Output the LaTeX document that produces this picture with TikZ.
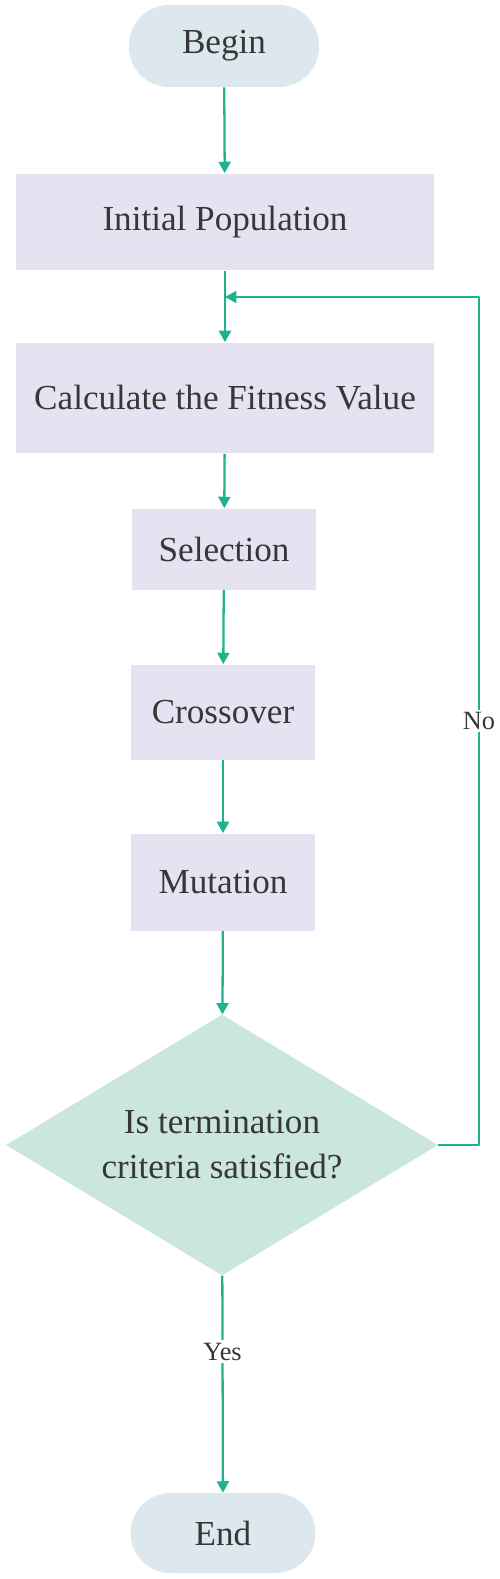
\documentclass[tikz,border=0pt]{standalone}
\usepackage{fontspec}
\setmainfont{Liberation Serif}
\usepackage{tikz}
\usetikzlibrary{arrows.meta,shapes.geometric}
\usepackage{xcolor}
\definecolor{capblue}{RGB}{220,232,238}
\definecolor{steplilac}{RGB}{230,226,241}
\definecolor{testmint}{RGB}{203,230,222}
\definecolor{flowteal}{RGB}{30,178,142}
\definecolor{inkgray}{RGB}{55,55,55}

\begin{document}
\begin{tikzpicture}[x=0.02cm,y=-0.02cm,line join=round,
  every node/.style={text=inkgray,font=\fontsize{20}{25.5}\selectfont},
  terminal/.style={rectangle,rounded corners=0.8cm,fill=capblue,inner sep=0pt,
    minimum width=3.8cm,minimum height=1.64cm},
  stepbox/.style={rectangle,fill=steplilac,inner sep=0pt,minimum width=3.7cm},
  widebox/.style={stepbox,minimum width=8.36cm},
  testbox/.style={diamond,fill=testmint,inner sep=0pt,aspect=1.655,align=center,
    minimum width=8.64cm,minimum height=5.22cm},
  flow/.style={draw=flowteal,line width=1.3pt,-{Triangle[length=6.5pt,width=6.8pt]}},
  lbl/.style={fill=white,inner sep=1.5pt,font=\fontsize{15}{18}\selectfont}]
  \useasboundingbox (0,0) rectangle (500,1579);
  \node[terminal] (begin) at (224,46) {Begin};
  \node[widebox,minimum height=1.94cm] (init) at (225,222) {Initial Population};
  \node[widebox,minimum height=2.22cm] (calc) at (225,398) {Calculate the Fitness Value};
  \node[stepbox,minimum height=1.62cm] (sel) at (224,549) {Selection};
  \node[stepbox,minimum height=1.9cm] (cross) at (223,712) {Crossover};
  \node[stepbox,minimum height=1.94cm] (mut) at (223,882) {Mutation};
  \node[testbox] (test) at (222,1145) {Is termination\\criteria satisfied?};
  \node[terminal,minimum width=3.7cm,minimum height=1.6cm] (end) at (223,1533) {End};
  \coordinate (join) at (225,297);
  \coordinate (back) at (479,297);
  \draw[flow] (begin) -- (init);
  \draw[flow] (init) -- (calc);
  \draw[flow] (calc) -- (sel);
  \draw[flow] (sel) -- (cross);
  \draw[flow] (cross) -- (mut);
  \draw[flow] (mut) -- (test);
  \draw[flow] (test.east) -| node[lbl,pos=0.75] {No} (back) -- (join);
  \draw[flow] (test) -- node[lbl,pos=0.35] {Yes} (end);
\end{tikzpicture}
\end{document}
